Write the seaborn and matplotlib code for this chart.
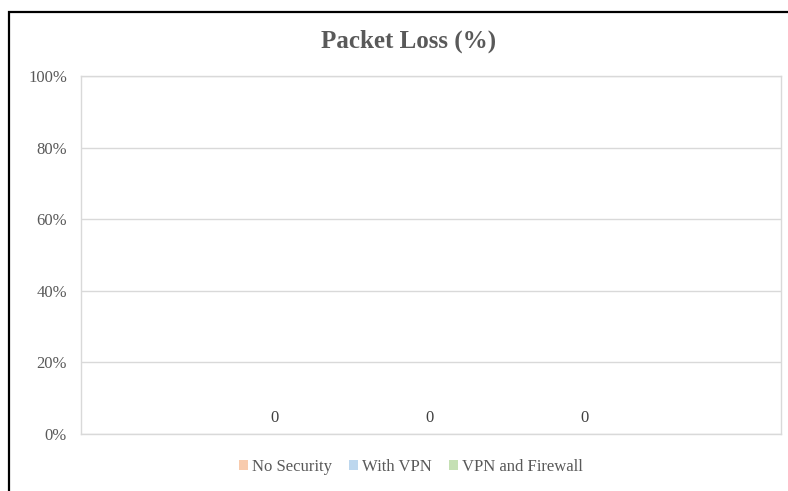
import matplotlib
matplotlib.use("Agg")
import matplotlib.pyplot as plt
from matplotlib.patches import Rectangle
from matplotlib.ticker import PercentFormatter
import seaborn as sns
import pandas as pd

# Chart data
category = ["Packet Loss"]
series = ["No Security", "With VPN", "VPN and Firewall"]
loss_values = [0, 0, 0]
colors = ["#F8CBAD", "#BDD7EE", "#C5E0B4"]
y_ticks = [0, 0.2, 0.4, 0.6, 0.8, 1.0]

df = pd.DataFrame({
    "category": category * len(series),
    "series": series,
    "loss": loss_values,
})

sns.set_theme(style="white")
plt.rcParams["font.family"] = ["Liberation Serif", "DejaVu Serif"]

W, H = 788, 491
fig = plt.figure(figsize=(W / 100, H / 100), dpi=100)
ax = fig.add_axes([81 / W, 1 - 434 / H, 700 / W, (434 - 76) / H])

sns.barplot(data=df, x="category", y="loss", hue="series",
            palette=colors, ax=ax, width=0.8, legend=False,
            edgecolor="none", errorbar=None)

for cont in ax.containers:
    ax.bar_label(cont, labels=[f"{v:g}" for v in cont.datavalues],
                 padding=6, fontsize=12, color="#404040")

ax.set_xlim(-0.6005, 0.6055)
ax.set_ylim(0, 1)
ax.set_yticks(y_ticks)
ax.yaxis.set_major_formatter(PercentFormatter(xmax=1, decimals=0))
ax.tick_params(axis="y", labelsize=12, labelcolor="#595959", length=0, pad=10)
ax.set_xticks([])
ax.set_xlabel("")
ax.set_ylabel("")
ax.grid(axis="y", color="#D9D9D9", linewidth=1)
ax.set_axisbelow(True)
for s in ax.spines.values():
    s.set_visible(True)
    s.set_color("#D9D9D9")
    s.set_linewidth(1)

# Legend below the plot
handles = [Rectangle((0, 0), 1, 1, facecolor=c, edgecolor="none") for c in colors]
fig.legend(handles, series, loc="center", bbox_to_anchor=(411 / W, 1 - 467 / H),
           ncol=3, frameon=False, fontsize=12, handlelength=0.55, handleheight=0.55,
           handletextpad=0.25, columnspacing=1.0, labelcolor="#595959")

fig.text(409 / W, 1 - 41 / H, "Packet Loss (%)", ha="center", va="center",
         fontsize=18, fontweight="bold", color="#595959")

# Outer chart frame
fig.add_artist(Rectangle((8.5 / W, -0.1), 1.2, 1.1 - 11.5 / H,
                         transform=fig.transFigure, fill=False,
                         edgecolor="black", linewidth=1.6))

fig.savefig("out.png", dpi=100, facecolor="white")
